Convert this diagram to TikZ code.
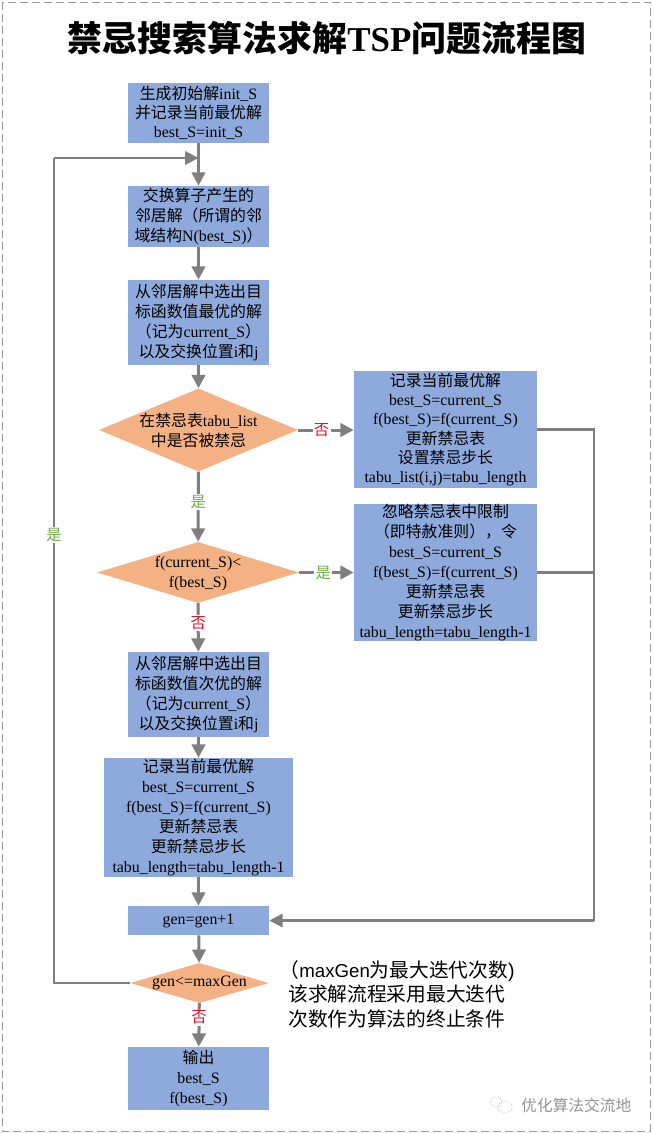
\documentclass[tikz,border=0pt]{standalone}
\usepackage{fontspec}
\setmainfont{Liberation Serif}
\setsansfont{Liberation Sans}
\newfontfamily\cjk{Noto Sans CJK SC}
\newcommand{\zh}[1]{{\cjk #1}}
\usetikzlibrary{shapes.geometric,arrows.meta}
\definecolor{boxblue}{HTML}{8EA9DB}
\definecolor{diaorange}{HTML}{F4B183}
\definecolor{linegray}{HTML}{7F7F7F}
\definecolor{yesgreen}{HTML}{70AD47}
\definecolor{nored}{HTML}{E8112D}
\tikzset{
  x=0.75pt,y=-0.75pt,
  procbox/.style={rectangle,fill=boxblue,draw=none,inner sep=0pt,align=center,
    font=\fontsize{11.9}{15}\selectfont,text=black},
  tightbox/.style={font=\fontsize{11.9}{14.5}\selectfont},
  dia/.style={diamond,fill=diaorange,draw=none,inner sep=0pt,shape aspect=#1},
  diatext/.style={align=center,inner sep=0pt,font=\fontsize{11.9}{15}\selectfont,text=black},
  flow/.style={draw=linegray,line width=2.25pt,-{Triangle[length=10pt,width=10pt]}},
  plainflow/.style={draw=linegray,line width=1.6pt},
  loopflow/.style={draw=linegray,line width=1.6pt,-{Triangle[length=10pt,width=10pt]}},
  yeslab/.style={fill=white,inner sep=1pt,text=yesgreen,font=\cjk\fontsize{11.5}{12}\selectfont},
  nolab/.style={fill=white,inner sep=1pt,text=nored,font=\cjk\fontsize{11.5}{12}\selectfont},
  border/.style={draw=gray!80,dashed,dash pattern=on 6pt off 3pt,line width=0.6pt},
}
\newcommand{\pbox}[7][]{\node[procbox,minimum width=#5*0.75pt,minimum height=#6*0.75pt,#1] (#2) at (#3,#4) {#7};}
\begin{document}
\begin{tikzpicture}
\useasboundingbox (0,0) rectangle (653,1134);
\draw[border] (2,2) rectangle (650,1131);
\node[inner sep=0pt,font=\fontsize{26.2}{30}\selectfont\bfseries] (title) at (327,38)
  {\zh{禁忌搜索算法求解}TSP\zh{问题流程图}};

\pbox[tightbox]{b1}{198.5}{113}{141}{60}{\zh{生成初始解}init\_S\\\zh{并记录当前最优解}\\best\_S=init\_S}
\pbox{b2}{198.5}{216.5}{141}{61}{\zh{交换算子产生的}\\\zh{邻居解（所谓的邻}\\\zh{域结构}N(best\_S)\zh{）}}
\pbox{b3}{198.5}{322.5}{141}{85}{\zh{从邻居解中选出目}\\\zh{标函数值最优的解}\\\zh{（记为}current\_S\zh{）}\\\zh{以及交换位置}i\zh{和}j}
\node[dia=2.4,minimum width=149.25pt,minimum height=62.25pt,
  label={[diatext]center:{\zh{在禁忌表}tabu\_list\\\zh{中是否被禁忌}}}] (d1) at (198.5,430) {};
\node[dia=3.3,minimum width=151.5pt,minimum height=45.75pt,
  label={[diatext,yshift=-0.75pt]center:{f(current\_S)<\\f(best\_S)}}] (d2) at (198,572.5) {};
\pbox{b4}{198.5}{694.5}{141}{85}{\zh{从邻居解中选出目}\\\zh{标函数值次优的解}\\\zh{（记为}current\_S\zh{）}\\\zh{以及交换位置}i\zh{和}j}
\pbox{b5}{198.5}{817.5}{189}{119}{\zh{记录当前最优解}\\best\_S=current\_S\\f(best\_S)=f(current\_S)\\\zh{更新禁忌表}\\\zh{更新禁忌步长}\\tabu\_length=tabu\_length-1}
\pbox{b6}{198.5}{920.5}{141}{29}{gen=gen+1}
\node[dia=3.5,minimum width=104.25pt,minimum height=30pt,
  label={[diatext]center:{gen<=maxGen}}] (d3) at (199.5,983) {};
\pbox{b7}{198.5}{1078.5}{141}{63}{\zh{输出}\\best\_S\\f(best\_S)}
\pbox[tightbox]{r1}{445.5}{429.5}{183}{117}{\zh{记录当前最优解}\\best\_S=current\_S\\f(best\_S)=f(current\_S)\\\zh{更新禁忌表}\\\zh{设置禁忌步长}\\tabu\_list(i,j)=tabu\_length}
\pbox{r2}{445.5}{572.5}{183}{137}{\zh{忽略禁忌表中限制}\\\zh{（即特赦准则），令}\\best\_S=current\_S\\f(best\_S)=f(current\_S)\\\zh{更新禁忌表}\\\zh{更新禁忌步长}\\tabu\_length=tabu\_length-1}

\coordinate (j1) at (198.5,158);
\coordinate (loopb) at (54,983);
\coordinate (loopt) at (54,158);
\coordinate (rc1) at (594,429.5);
\coordinate (rc2) at (594,572.5);
\coordinate (rc3) at (594,920.5);

\draw[flow] (b1) -- (b2);
\draw[flow] (b2) -- (b3);
\draw[flow] (b3) -- (d1);
\draw[flow] (d1) -- node[yeslab,pos=0.43] (ly1) {是} (d2);
\draw[flow] (d2) -- node[nolab,pos=0.4] (ln1) {否} (b4);
\draw[flow] (b4) -- (b5);
\draw[flow] (b5) -- (b6);
\draw[flow] (b6) -- (d3);
\draw[flow] (d3) -- node[nolab,pos=0.33] (ln2) {否} (b7);
\draw[flow] (d1.east) -- node[nolab,pos=0.42] (ln3) {否} (r1.west |- d1.east);
\draw[flow] (d2.east) -- node[yeslab,pos=0.44] (ly2) {是} (r2.west |- d2.east);
\draw[plainflow] (r1.east) -- (rc1) -- (rc2);
\draw[plainflow] (r2.east) -- (rc2) -- (rc3);
\draw[loopflow] (rc3) -- (b6.east);
\draw[plainflow] (d3.west) -- (loopb) -- node[yeslab,pos=0.543] (ly3) {是} (loopt);
\draw[loopflow] (loopt) -- (j1);

\node[anchor=north west,inner sep=0pt,align=left,font=\fontsize{14.8}{18.4}\selectfont] (note) at (288,960)
  {\hspace*{-6.5pt}\zh{（}{\sffamily\fontsize{14}{18.4}\selectfont maxGen}\zh{为最大迭代次数}{\sffamily )}\\\zh{该求解流程采用最大迭代}\\\zh{次数作为算法的终止条件}};

\node[anchor=west,inner sep=0pt,text=gray!85,font=\cjk\fontsize{11.8}{14}\selectfont] (wm) at (521,1105) {优化算法交流地};
\draw[gray!60,densely dotted,line width=0.5pt] (496,1102) ellipse [x radius=6,y radius=5];
\draw[gray!60,densely dotted,line width=0.5pt] (505,1107) ellipse [x radius=7,y radius=6];
\end{tikzpicture}
\end{document}
